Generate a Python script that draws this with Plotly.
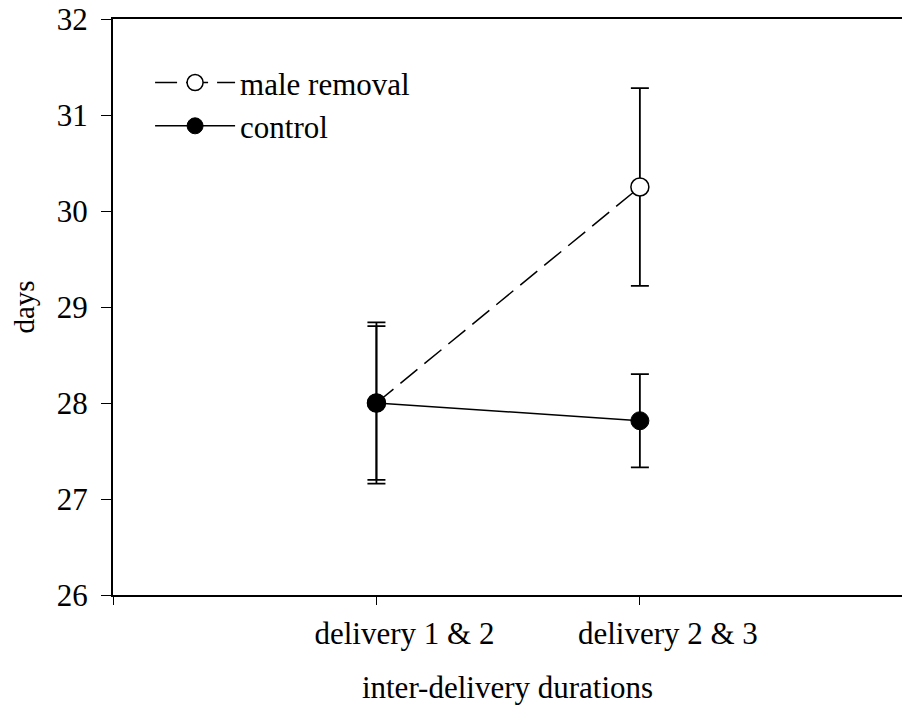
import plotly.graph_objects as go

categories = ["delivery 1 & 2", "delivery 2 & 3"]
x_pos = [1, 2]
male_removal = [28.0, 30.25]
male_removal_err = [0.84, 1.03]
control = [28.0, 27.815]
control_err = [0.80, 0.485]

FONT = "Liberation Serif, Times New Roman, serif"

fig = go.Figure()
fig.add_trace(go.Scatter(
    x=x_pos, y=male_removal, name="male removal", mode="lines+markers",
    line=dict(color="black", width=1.5, dash="22px,9px"),
    marker=dict(symbol="circle", size=18, color="white", line=dict(color="black", width=1.5)),
    error_y=dict(type="data", array=male_removal_err, color="black", thickness=1.8, width=9),
))
fig.add_trace(go.Scatter(
    x=x_pos, y=control, name="control", mode="lines+markers",
    line=dict(color="black", width=1.5),
    marker=dict(symbol="circle", size=18, color="black", line=dict(color="black", width=1)),
    error_y=dict(type="data", array=control_err, color="black", thickness=1.8, width=9),
))

fig.update_layout(
    width=902, height=716,
    margin=dict(l=113, r=0, t=19, b=121, autoexpand=False),
    paper_bgcolor="white", plot_bgcolor="white",
    font=dict(family=FONT, size=31, color="black"),
    showlegend=True,
    legend=dict(x=0.047, y=0.936, xanchor="left", yanchor="top",
                bgcolor="rgba(0,0,0,0)", font=dict(size=31), itemwidth=80,
                tracegroupgap=0),
    xaxis=dict(
        range=[0, 2.995], tickmode="array", tickvals=[0, 1, 2],
        ticktext=["", categories[0], categories[1]],
        showline=True, linecolor="black", linewidth=2, mirror=True,
        ticks="outside", ticklen=8, tickwidth=1.2, tickcolor="black",
        showgrid=False, zeroline=False,
        title=dict(text="inter-delivery durations", standoff=26, font=dict(size=31)),
        ticklabelstandoff=2,
        ticklabelshift=28,
    ),
    yaxis=dict(
        range=[26, 32], tickmode="array", tickvals=[26, 27, 28, 29, 30, 31, 32],
        showline=True, linecolor="black", linewidth=2,
        ticks="outside", ticklen=10, tickwidth=1.2, tickcolor="black",
        showgrid=False, zeroline=False,
        title=dict(text="days", standoff=14, font=dict(size=29)),
        ticklabelstandoff=7,
    ),
)

fig.write_html("out.html", config={"displayModeBar": False},
               post_script="document.body.style.margin='0';document.body.style.overflow='hidden';")
